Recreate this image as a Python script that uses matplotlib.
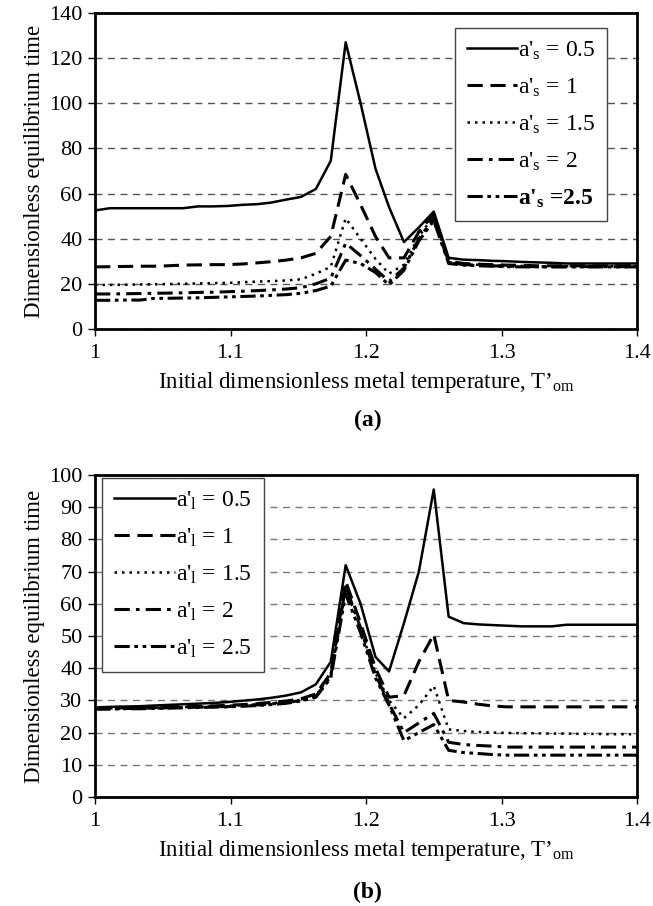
import matplotlib
matplotlib.use("Agg")
import matplotlib.pyplot as plt

plt.rcParams['font.family'] = ['Liberation Serif', 'DejaVu Serif']
plt.rcParams['mathtext.fontset'] = 'custom'
plt.rcParams['mathtext.rm'] = 'Liberation Serif'
plt.rcParams['mathtext.it'] = 'Liberation Serif:italic'
plt.rcParams['mathtext.bf'] = 'Liberation Serif:bold'

# initial dimensionless metal temperature
t_om = [1.000, 1.011, 1.022, 1.033, 1.043, 1.054, 1.065, 1.076, 1.087, 1.098,
        1.109, 1.120, 1.130, 1.141, 1.152, 1.163, 1.174, 1.185, 1.196, 1.207,
        1.217, 1.228, 1.239, 1.250, 1.261, 1.272, 1.283, 1.293, 1.304, 1.315,
        1.326, 1.337, 1.348, 1.359, 1.370, 1.380, 1.391, 1.400]

# (a) varying a'_s
a_s_05 = [52.5, 53.5, 53.5, 53.5, 53.5, 53.5, 53.5, 54.3, 54.3, 54.5,
          55.0, 55.3, 56.0, 57.3, 58.5, 62.0, 74.5, 127.0, 100.0, 71.0,
          54.0, 38.5, 45.0, 52.0, 31.5, 30.7, 30.5, 30.2, 30.0, 29.7,
          29.5, 29.3, 29.0, 29.0, 29.0, 29.0, 29.0, 29.0]
a_s_1 = [27.5, 27.6, 27.7, 27.8, 27.8, 28.0, 28.3, 28.4, 28.5, 28.5,
         28.8, 29.3, 29.8, 30.5, 31.5, 33.5, 41.0, 68.5, 55.0, 41.0,
         31.5, 31.5, 43.0, 51.0, 30.0, 29.0, 28.7, 28.5, 28.3, 28.2,
         28.0, 28.0, 28.0, 28.0, 28.0, 28.0, 28.0, 28.0]
a_s_15 = [19.5, 19.5, 19.6, 19.7, 19.8, 19.9, 20.0, 20.2, 20.3, 20.4,
          20.7, 21.0, 21.2, 21.5, 22.0, 24.5, 27.5, 49.0, 40.0, 31.0,
          24.5, 28.5, 41.0, 50.0, 29.5, 28.7, 28.4, 28.2, 28.0, 27.9,
          27.8, 27.8, 27.8, 27.8, 27.8, 27.8, 27.8, 27.8]
a_s_2 = [15.5, 15.5, 15.6, 15.7, 15.8, 15.9, 16.0, 16.2, 16.3, 16.5,
         16.7, 17.0, 17.3, 17.7, 18.3, 20.0, 22.5, 38.0, 32.5, 26.5,
         21.0, 27.0, 40.0, 49.0, 29.5, 28.5, 28.2, 28.0, 27.8, 27.7,
         27.6, 27.6, 27.6, 27.6, 27.6, 27.6, 27.6, 27.6]
a_s_25 = [12.7, 12.7, 12.8, 12.8, 13.5, 13.6, 13.7, 13.8, 14.0, 14.2,
          14.4, 14.6, 14.9, 15.2, 15.8, 17.0, 19.0, 30.5, 29.0, 25.0,
          19.5, 26.0, 39.0, 48.0, 29.0, 28.3, 28.0, 27.8, 27.6, 27.5,
          27.5, 27.5, 27.5, 27.5, 27.5, 27.5, 27.5, 27.5]

# (b) varying a'_l
a_l_05 = [27.8, 28.0, 28.1, 28.2, 28.4, 28.6, 28.8, 29.0, 29.2, 29.5,
          29.9, 30.3, 30.8, 31.5, 32.5, 35.0, 42.0, 72.0, 60.0, 43.5,
          39.0, 54.0, 70.0, 95.5, 56.0, 54.0, 53.6, 53.4, 53.2, 53.0,
          53.0, 53.0, 53.5, 53.5, 53.5, 53.5, 53.5, 53.5]
a_l_1 = [27.5, 27.6, 27.7, 27.8, 27.9, 28.0, 28.1, 28.2, 28.3, 28.5,
         28.7, 29.0, 29.4, 29.8, 30.5, 32.0, 38.5, 67.0, 54.0, 40.0,
         31.0, 31.5, 42.0, 50.5, 30.0, 29.5, 28.8, 28.3, 28.0, 28.0,
         28.0, 28.0, 28.0, 28.0, 28.0, 28.0, 28.0, 28.0]
a_l_15 = [27.5, 27.5, 27.6, 27.6, 27.7, 27.8, 27.9, 28.0, 28.1, 28.3,
          28.5, 28.8, 29.1, 29.5, 30.2, 31.5, 38.0, 65.0, 52.0, 38.5,
          30.0, 24.5, 28.5, 34.5, 21.0, 20.5, 20.2, 20.0, 19.9, 19.8,
          19.8, 19.7, 19.7, 19.6, 19.6, 19.5, 19.5, 19.5]
a_l_2 = [27.4, 27.4, 27.5, 27.5, 27.6, 27.7, 27.8, 27.9, 28.0, 28.1,
         28.3, 28.6, 28.9, 29.3, 30.0, 31.2, 37.5, 65.5, 52.5, 38.0,
         29.0, 20.0, 23.0, 26.0, 17.0, 16.3, 16.0, 15.8, 15.5, 15.5,
         15.5, 15.5, 15.5, 15.5, 15.5, 15.5, 15.5, 15.5]
a_l_25 = [27.3, 27.3, 27.4, 27.4, 27.5, 27.6, 27.7, 27.8, 27.9, 28.0,
          28.2, 28.4, 28.7, 29.1, 29.8, 31.0, 37.0, 63.0, 51.0, 37.0,
          28.5, 17.5, 20.0, 22.5, 14.5, 13.8, 13.5, 13.2, 13.0, 13.0,
          13.0, 13.0, 13.0, 13.0, 13.0, 13.0, 13.0, 13.0]

labels_a = [r"a'$_{\rm s}$ = 0.5", r"a'$_{\rm s}$ = 1", r"a'$_{\rm s}$ = 1.5",
            r"a'$_{\rm s}$ = 2", r"a'$_\mathbf{s}$ =2.5"]
labels_b = [r"a'$_{\rm l}$ = 0.5", r"a'$_{\rm l}$ = 1", r"a'$_{\rm l}$ = 1.5",
            r"a'$_{\rm l}$ = 2", r"a'$_{\rm l}$ = 2.5"]

styles = [dict(linestyle='-', linewidth=1.8),
          dict(linestyle=(0, (5, 2.5)), linewidth=2.2),
          dict(linestyle=(0, (1, 2)), linewidth=1.8),
          dict(linestyle=(0, (5, 2, 1.2, 2)), linewidth=2.2),
          dict(linestyle=(0, (5, 1.5, 1.2, 1.5, 1.2, 1.5)), linewidth=2.2)]

TICK_FS = 16
LABEL_FS = 16.5
LEG_FS = 17


def setup_axes(ax, ymax, ystep, grid_color):
    ax.set_xlim(1, 1.4)
    ax.set_ylim(0, ymax)
    ax.set_xticks([1, 1.1, 1.2, 1.3, 1.4])
    ax.set_xticklabels(['1', '1.1', '1.2', '1.3', '1.4'])
    ax.set_yticks(range(0, ymax + 1, ystep))
    ax.tick_params(direction='out', length=5, width=1, labelsize=TICK_FS, pad=4)
    ax.tick_params(axis='x', pad=6)
    for s in ax.spines.values():
        s.set_linewidth(2)
    ax.yaxis.grid(True, linestyle=(0, (5, 4)), color=grid_color, linewidth=1)
    ax.set_axisbelow(True)
    ax.set_ylabel('Dimensionless equilibrium time', fontsize=LABEL_FS, labelpad=3)
    ax.set_xlabel("Initial dimensionless metal temperature, T’$_{\\rm om}$",
                  fontsize=LABEL_FS, labelpad=5)


def add_legend(ax, loc, anchor, hl):
    leg = ax.legend(loc=loc, bbox_to_anchor=anchor, borderaxespad=0,
                    fontsize=LEG_FS, handlelength=hl, handletextpad=0.05,
                    labelspacing=0.62, fancybox=False, edgecolor='#444444',
                    framealpha=1, borderpad=0.5)
    leg.get_frame().set_linewidth(1)
    return leg


fig = plt.figure(figsize=(6.53, 9.06), dpi=100)

# (a)
ax1 = fig.add_axes([0.1455, 0.6369, 0.830, 0.3488])
series_a = [a_s_05, a_s_1, a_s_15, a_s_2, a_s_25]
for vals, lab, st in zip(series_a, labels_a, styles):
    ax1.plot(t_om, vals, color='black', label=lab, **st)
setup_axes(ax1, 140, 20, '#555555')
leg1 = add_legend(ax1, 'upper right', (0.945, 0.953), 2.1)
leg1.get_texts()[-1].set_fontweight('bold')
fig.text(0.5626, 1 - 420 / 906, '(a)', ha='center', va='center',
         fontsize=LEG_FS, fontweight='bold')

# (b)
ax2 = fig.add_axes([0.1455, 0.1203, 0.830, 0.3554])
series_b = [a_l_05, a_l_1, a_l_15, a_l_2, a_l_25]
for vals, lab, st in zip(series_b, labels_b, styles):
    ax2.plot(t_om, vals, color='black', label=lab, **st)
setup_axes(ax2, 100, 10, '#777777')
add_legend(ax2, 'upper left', (0.013, 0.991), 2.6)
fig.text(0.5626, 1 - 892 / 906, '(b)', ha='center', va='center',
         fontsize=LEG_FS, fontweight='bold')

fig.savefig('out.png', dpi=100)
